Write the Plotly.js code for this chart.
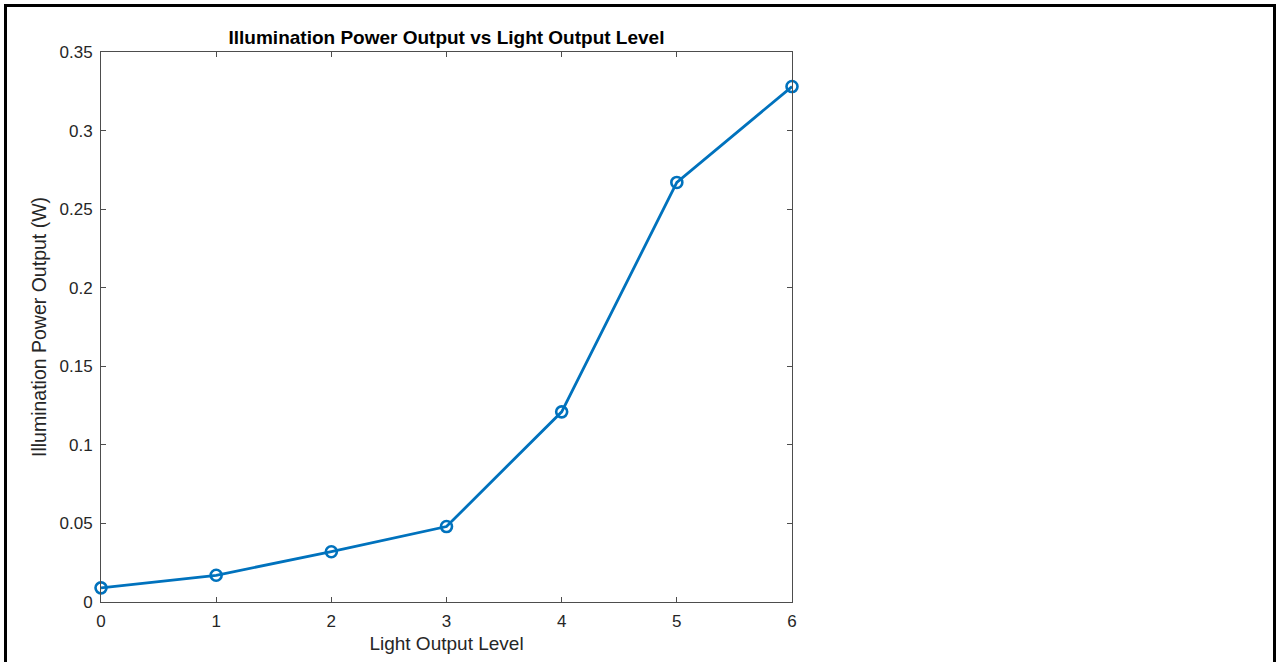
<!DOCTYPE html>
<html>
<head>
<meta charset="utf-8">
<script src="https://cdn.plot.ly/plotly-3.0.1.min.js"></script>
<style>
html,body{margin:0;padding:0;overflow:hidden;background:#fff;}
#chart{position:absolute;left:0;top:0;width:1276px;height:662px;}
#frame{position:absolute;left:4px;top:4px;width:1266px;height:700px;border:3px solid #000;pointer-events:none;}
</style>
</head>
<body>
<div id="chart"></div>
<div id="frame"></div>
<script>
const levels = [0, 1, 2, 3, 4, 5, 6];
const powerW = [0.009, 0.017, 0.032, 0.048, 0.121, 0.267, 0.328];
const xTicks = [0, 1, 2, 3, 4, 5, 6];
const yTicks = [0, 0.05, 0.1, 0.15, 0.2, 0.25, 0.3, 0.35];
const yTickText = ['0', '0.05', '0.1', '0.15', '0.2', '0.25', '0.3', '0.35'];

const blue = '#0072BD';
const axisColor = '#4d4d4d';
const font = 'Liberation Sans, Arial, Helvetica, sans-serif';

const trace = {
  x: levels, y: powerW, type: 'scatter', mode: 'lines+markers',
  line: {color: blue, width: 2.8},
  marker: {symbol: 'circle-open', size: 11, color: blue, line: {color: blue, width: 2.6}},
  cliponaxis: false, hoverinfo: 'x+y'
};

const axisCommon = {
  showgrid: false, zeroline: false, showline: true, mirror: 'ticks',
  linecolor: axisColor, linewidth: 1, ticks: 'inside', ticklen: 5,
  tickcolor: axisColor, tickwidth: 1,
  tickfont: {family: font, size: 17, color: '#262626'}
};

const layout = {
  width: 1276, height: 662,
  margin: {l: 101, r: 484, t: 52, b: 60},
  paper_bgcolor: '#fff', plot_bgcolor: '#fff',
  showlegend: false,
  title: {text: '<b>Illumination Power Output vs Light Output Level</b>',
          font: {family: font, size: 19, color: '#000'},
          x: 0.5, xref: 'paper', xanchor: 'center', y: 0.944, yref: 'container', yanchor: 'middle'},
  xaxis: Object.assign({}, axisCommon, {
    range: [0, 6], tickvals: xTicks, ticktext: xTicks.map(String),
    ticklabelstandoff: 4,
    title: {text: 'Light Output Level', font: {family: font, size: 19, color: '#262626'}, standoff: 6}
  }),
  yaxis: Object.assign({}, axisCommon, {
    range: [0, 0.35], tickvals: yTicks, ticktext: yTickText,
    ticklabelstandoff: 4,
    title: {text: 'Illumination Power Output (W)', font: {family: font, size: 19.5, color: '#262626'}, standoff: 7}
  })
};

Plotly.newPlot('chart', [trace], layout, {displayModeBar: false, staticPlot: true});
</script>
</body>
</html>
